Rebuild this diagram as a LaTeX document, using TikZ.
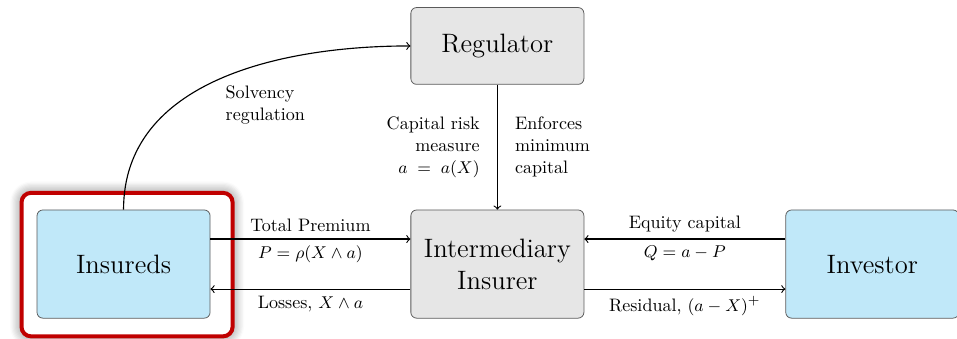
\documentclass[tikz,border=0pt]{standalone}
\usepackage{amsmath}
\usetikzlibrary{positioning,shadows.blur,backgrounds}
\definecolor{insblue}{RGB}{192,232,249}
\definecolor{boxgray}{RGB}{230,230,230}
\definecolor{edgegray}{RGB}{90,90,90}
\definecolor{hlred}{RGB}{192,0,0}

\begin{document}
\begin{tikzpicture}[
    node distance=2.31cm and 3.7cm,
    party/.style={draw=edgegray, rectangle, rounded corners=3pt, minimum width=3.2cm, minimum height=2.0cm, fill=insblue, align=center, font=\fontsize{14}{17}\selectfont},
    firm/.style={party, fill=boxgray},
    lbl/.style={font=\fontsize{9.5}{11.5}\selectfont},
    arrow/.style={semithick,->}
]
  \useasboundingbox (0,0) rectangle (17.7,6.253);

  % Nodes
  \node (insureds) [party] at (2.285,1.369) {Insureds};
  \node (insurer) [firm, right=3.7cm of insureds] {Intermediary\\Insurer};
  \node (investor) [party, right=3.72cm of insurer] {Investor};
  \node (regulator) [firm, minimum height=1.42cm, above=2.31cm of insurer] {Regulator};

  % Highlight round the insureds
  \begin{scope}[on background layer]
    \draw [hlred, fill=white, line width=2.1pt, rounded corners=5pt, blur shadow={shadow blur steps=10, shadow xshift=0pt, shadow yshift=0pt, shadow blur radius=6pt, shadow opacity=55}]
      ([shift={(-0.28,0.31)}]insureds.north west) rectangle ([shift={(0.41,-0.33)}]insureds.south east);
  \end{scope}

  % Arrows
  \draw [arrow] (insureds.north) to[out=90, in=180] (regulator.west);
  \node (solvency) [lbl, align=left, anchor=west] at (4.05,4.31) {Solvency\\regulation};

  \draw [arrow] (regulator) -- (insurer)
    node[midway, left=0.2cm, lbl, align=right] {Capital risk\\measure\\$a \;=\; a(X)$}
    node[midway, right=0.2cm, lbl, align=left] {Enforces\\minimum\\capital};

  \draw [arrow] ([yshift=0.4625cm]insureds.east) -- ([yshift=0.4625cm]insurer.west)
    node[midway, above, lbl] {Total Premium}
    node[midway, below, lbl] {$P=\rho(X\wedge a)$};
  \draw [arrow] ([yshift=-0.4625cm]insurer.west) -- ([yshift=-0.4625cm]insureds.east)
    node[midway, below, lbl] {Losses, $X\wedge a$};

  \draw [arrow] ([yshift=0.4625cm]investor.west) -- ([yshift=0.4625cm]insurer.east)
    node[midway, above, lbl] {Equity capital}
    node[midway, below, lbl] {$Q=a-P$};
  \draw [arrow] ([yshift=-0.4625cm]insurer.east) -- ([yshift=-0.4625cm]investor.west)
    node[midway, below, lbl] {Residual, $(a-X)^+$};
\end{tikzpicture}
\end{document}
